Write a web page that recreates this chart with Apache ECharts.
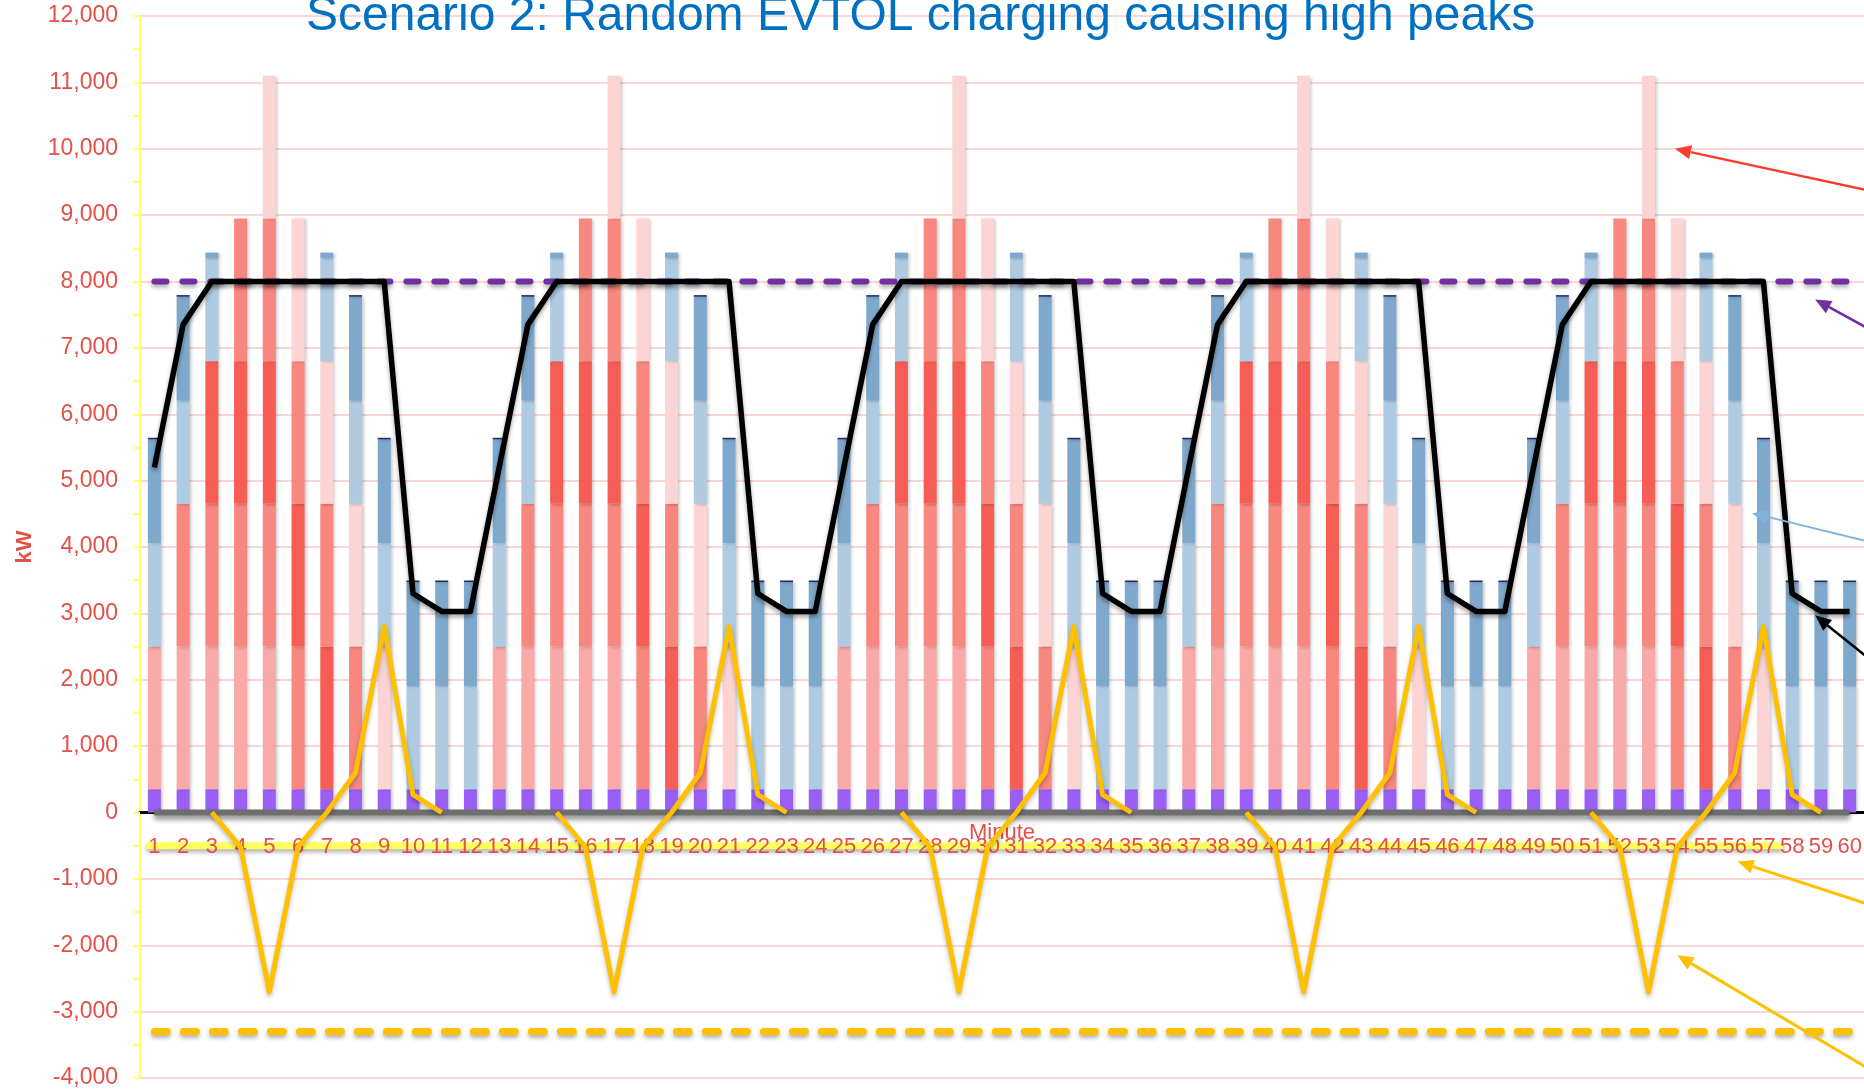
<!DOCTYPE html>
<html><head><meta charset="utf-8">
<script src="https://cdn.jsdelivr.net/npm/echarts@6/dist/echarts.min.js"></script>
<style>html,body{margin:0;padding:0;background:#fff}#c{width:1864px;height:1092px}</style>
</head><body><div id="c"></div>
<script>
// ---------- DATA ----------
const minutes = ['1','2','3','4','5','6','7','8','9','10','11','12','13','14','15','16','17','18','19','20',
  '21','22','23','24','25','26','27','28','29','30','31','32','33','34','35','36','37','38','39','40',
  '41','42','43','44','45','46','47','48','49','50','51','52','53','54','55','56','57','58','59','60'];
const yTicks = [-4000,-3000,-2000,-1000,0,1000,2000,3000,4000,5000,6000,7000,8000,9000,10000,11000,12000];
const _ = null;
const baseLoad = [
 350,350,350,350,350,350,350,350,350,350,350,350,
 350,350,350,350,350,350,350,350,350,350,350,350,
 350,350,350,350,350,350,350,350,350,350,350,350,
 350,350,350,350,350,350,350,350,350,350,350,350,
 350,350,350,350,350,350,350,350,350,350,350,350];
const evtolA = [
 2150,2150,2150,2150,2150,_,_,_,_,_,_,_,
 2150,2150,2150,2150,2150,_,_,_,_,_,_,_,
 2150,2150,2150,2150,2150,_,_,_,_,_,_,_,
 2150,2150,2150,2150,2150,_,_,_,_,_,_,_,
 2150,2150,2150,2150,2150,_,_,_,_,_,_,_];
const evtolB = [
 _,2150,2150,2150,2150,2150,_,_,_,_,_,_,
 _,2150,2150,2150,2150,2150,_,_,_,_,_,_,
 _,2150,2150,2150,2150,2150,_,_,_,_,_,_,
 _,2150,2150,2150,2150,2150,_,_,_,_,_,_,
 _,2150,2150,2150,2150,2150,_,_,_,_,_,_];
const evtolC = [
 _,_,2150,2150,2150,2150,2150,_,_,_,_,_,
 _,_,2150,2150,2150,2150,2150,_,_,_,_,_,
 _,_,2150,2150,2150,2150,2150,_,_,_,_,_,
 _,_,2150,2150,2150,2150,2150,_,_,_,_,_,
 _,_,2150,2150,2150,2150,2150,_,_,_,_,_];
const evtolD = [
 _,_,_,2150,2150,2150,2150,2150,_,_,_,_,
 _,_,_,2150,2150,2150,2150,2150,_,_,_,_,
 _,_,_,2150,2150,2150,2150,2150,_,_,_,_,
 _,_,_,2150,2150,2150,2150,2150,_,_,_,_,
 _,_,_,2150,2150,2150,2150,2150,_,_,_,_];
const evtolE = [
 _,_,_,_,2150,2150,2150,2150,2150,_,_,_,
 _,_,_,_,2150,2150,2150,2150,2150,_,_,_,
 _,_,_,_,2150,2150,2150,2150,2150,_,_,_,
 _,_,_,_,2150,2150,2150,2150,2150,_,_,_,
 _,_,_,_,2150,2150,2150,2150,2150,_,_,_];
const evLight = [
 1555,1555,1555,_,_,_,1555,1555,1555,1555,1555,1555,
 1555,1555,1555,_,_,_,1555,1555,1555,1555,1555,1555,
 1555,1555,1555,_,_,_,1555,1555,1555,1555,1555,1555,
 1555,1555,1555,_,_,_,1555,1555,1555,1555,1555,1555,
 1555,1555,1555,_,_,_,1555,1555,1555,1555,1555,1555];
const evSteel = [
 1565,1565,80,_,_,_,80,1565,1565,1565,1565,1565,
 1565,1565,80,_,_,_,80,1565,1565,1565,1565,1565,
 1565,1565,80,_,_,_,80,1565,1565,1565,1565,1565,
 1565,1565,80,_,_,_,80,1565,1565,1565,1565,1565,
 1565,1565,80,_,_,_,80,1565,1565,1565,1565,1565];
const evCap = [
 25,25,_,_,_,_,_,25,25,25,25,25,
 25,25,_,_,_,_,_,25,25,25,25,25,
 25,25,_,_,_,_,_,25,25,25,25,25,
 25,25,_,_,_,_,_,25,25,25,25,25,
 25,25,_,_,_,_,_,25,25,25,25,25];
const gridDemand = [
 5200,7350,8000,8000,8000,8000,8000,8000,8000,3300,3030,3030,
 5200,7350,8000,8000,8000,8000,8000,8000,8000,3300,3030,3030,
 5200,7350,8000,8000,8000,8000,8000,8000,8000,3300,3030,3030,
 5200,7350,8000,8000,8000,8000,8000,8000,8000,3300,3030,3030,
 5200,7350,8000,8000,8000,8000,8000,8000,8000,3300,3030,3030];
const battery = [
 _,_,0,-520,-2700,-520,0,600,2800,270,0,_,
 _,_,0,-520,-2700,-520,0,600,2800,270,0,_,
 _,_,0,-520,-2700,-520,0,600,2800,270,0,_,
 _,_,0,-520,-2700,-520,0,600,2800,270,0,_,
 _,_,0,-520,-2700,-520,0,600,2800,270,0,_];
const gridLimit = [
 8000,8000,8000,8000,8000,8000,8000,8000,8000,8000,8000,8000,
 8000,8000,8000,8000,8000,8000,8000,8000,8000,8000,8000,8000,
 8000,8000,8000,8000,8000,8000,8000,8000,8000,8000,8000,8000,
 8000,8000,8000,8000,8000,8000,8000,8000,8000,8000,8000,8000,
 8000,8000,8000,8000,8000,8000,8000,8000,8000,8000,8000,8000];
const batteryLimit = [
 -3300,-3300,-3300,-3300,-3300,-3300,-3300,-3300,-3300,-3300,-3300,-3300,
 -3300,-3300,-3300,-3300,-3300,-3300,-3300,-3300,-3300,-3300,-3300,-3300,
 -3300,-3300,-3300,-3300,-3300,-3300,-3300,-3300,-3300,-3300,-3300,-3300,
 -3300,-3300,-3300,-3300,-3300,-3300,-3300,-3300,-3300,-3300,-3300,-3300,
 -3300,-3300,-3300,-3300,-3300,-3300,-3300,-3300,-3300,-3300,-3300,-3300];
const zeroLine = [
 0,0,0,0,0,0,0,0,0,0,0,0, 0,0,0,0,0,0,0,0,0,0,0,0, 0,0,0,0,0,0,0,0,0,0,0,0,
 0,0,0,0,0,0,0,0,0,0,0,0, 0,0,0,0,0,0,0,0,0,0,0,0];
// annotation arrows: [tip minute, tip value, edge minute, edge value]
const arrowRed = [53.92, 10000, 60.42, 9393];
const arrowPurple = [58.8, 7730, 60.42, 7345];
const arrowBlue = [56.6, 4510, 60.42, 4107];
const arrowBlack = [58.8, 2970, 60.42, 2405];
const arrowYellow = [56.1, -740, 60.42, -1350];
const arrowOrange = [54.0, -2150, 60.42, -3800];
const highlightBand = [0.72, 57.7, -500];

// ---------- CHART ----------
const RED = '#e2504a';
const FONT = 'Liberation Sans';
const W = 1864, H = 1092, GT = 16, GB = 14, YMIN = -4000, YMAX = 12000;
const plotH = H - GT - GB;
const zeroOffset = -plotH * (0 - YMIN) / (YMAX - YMIN);
const chart = echarts.init(document.getElementById('c'), null, {renderer: 'canvas'});
const barShadow = {shadowColor: 'rgba(0,0,0,0.22)', shadowBlur: 3, shadowOffsetX: 2, shadowOffsetY: 1};
function bar(name, data, color) {
  return {name, type: 'bar', stack: 'load', data, barWidth: 13, z: 2,
    itemStyle: Object.assign({color}, barShadow)};
}
function line(name, data, color, width, extra) {
  return {name, type: 'line', data, symbol: 'none', z: 3,
    lineStyle: Object.assign({color, width}, extra || {})};
}
chart.setOption({
  animation: false,
  backgroundColor: '#ffffff',
  title: {text: 'Scenario 2: Random EVTOL charging causing high peaks', left: 301, top: -12,
    textStyle: {color: '#0070c0', fontSize: 48, fontWeight: 'normal', fontFamily: FONT}},
  grid: {left: 140, right: 0, top: GT, bottom: GB, containLabel: false, outerBoundsMode: 'none'},
  xAxis: {type: 'category', data: minutes, offset: zeroOffset,
    axisLine: {onZero: false, lineStyle: {color: '#000', width: 3}},
    axisTick: {show: false},
    axisLabel: {interval: 0, color: RED, fontSize: 22, fontFamily: FONT, margin: 23},
    name: 'Minute', nameLocation: 'middle', nameGap: 9, nameMoveOverlap: false,
    nameTextStyle: {color: RED, fontSize: 22, fontFamily: FONT, verticalAlign: 'top'},
    splitLine: {show: false}},
  yAxis: {type: 'value', min: YMIN, max: YMAX, interval: 1000,
    axisLine: {show: true, lineStyle: {color: '#ffff66', width: 2}},
    axisTick: {show: true, length: 6, lineStyle: {color: '#ffff66', width: 2}},
    minorTick: {show: true, splitNumber: 2, length: 6, lineStyle: {color: '#ffff66', width: 2}},
    axisLabel: {color: RED, fontSize: 23, fontFamily: FONT, margin: 22,
      formatter: v => yTicks.indexOf(v) >= 0 ? v.toLocaleString('en-US') : ''},
    splitLine: {show: true, lineStyle: {color: '#fad6d6', width: 2}},
    name: 'kW', nameLocation: 'middle', nameGap: 104, nameMoveOverlap: false,
    nameTextStyle: {color: RED, fontSize: 22, fontFamily: FONT, fontWeight: 'bold'}},
  series: [
    bar('Base load', baseLoad, '#9a60f6'),
    bar('EVTOL 1', evtolA, '#f9a9a7'),
    bar('EVTOL 2', evtolB, '#f7877f'),
    bar('EVTOL 3', evtolC, '#f65d54'),
    bar('EVTOL 4', evtolD, '#f7877f'),
    bar('EVTOL 5', evtolE, '#fcd4d3'),
    bar('EV slow', evLight, '#aecbe2'),
    bar('EV fast', evSteel, '#7fa9cc'),
    bar('EV cap', evCap, '#1f2f66'),
    line('Zero', zeroLine, '#6e6e6e', 6, {shadowColor: 'rgba(0,0,0,0.45)', shadowBlur: 5, shadowOffsetY: 4}),
    line('Grid limit', gridLimit, '#7030a0', 6, {type: [12, 16], cap: 'round',
      shadowColor: 'rgba(0,0,0,0.3)', shadowBlur: 4, shadowOffsetY: 3}),
    line('Battery limit', batteryLimit, '#ffc000', 7, {type: [13, 16], cap: 'round',
      shadowColor: 'rgba(0,0,0,0.3)', shadowBlur: 4, shadowOffsetY: 3}),
    line('Grid demand', gridDemand, '#000000', 5.5, {join: 'round',
      shadowColor: 'rgba(0,0,0,0.35)', shadowBlur: 4, shadowOffsetY: 3}),
    line('Battery', battery, '#ffc000', 5, {join: 'round',
      shadowColor: 'rgba(0,0,0,0.25)', shadowBlur: 4, shadowOffsetY: 3})
  ]
});

// ---------- ANNOTATIONS (positioned through the chart scales) ----------
function toPx(m, v) {
  const xa = chart.convertToPixel({xAxisIndex: 0}, '1');
  const xb = chart.convertToPixel({xAxisIndex: 0}, '60');
  const x = xa + (m - 1) * (xb - xa) / 59;
  const y = chart.convertToPixel({yAxisIndex: 0}, v);
  return [x, y];
}
function arrowEls(a, color, w) {
  const tip = toPx(a[0], a[1]);
  const edge = toPx(a[2], a[3]);
  const tail = [tip[0] + (edge[0] - tip[0]) * 1.4, tip[1] + (edge[1] - tip[1]) * 1.4];
  const ang = Math.atan2(tail[1] - tip[1], tail[0] - tip[0]);
  const L = 16, HW = 7;
  const c = Math.cos(ang), s = Math.sin(ang);
  const b = [tip[0] + L * c, tip[1] + L * s];
  const p1 = [b[0] - HW * s, b[1] + HW * c];
  const p2 = [b[0] + HW * s, b[1] - HW * c];
  return [
    {type: 'line', z: 50, shape: {x1: b[0], y1: b[1], x2: tail[0], y2: tail[1]},
      style: {stroke: color, lineWidth: w}},
    {type: 'polygon', z: 50, shape: {points: [tip, p1, p2]}, style: {fill: color}}
  ];
}
const hb0 = toPx(highlightBand[0], highlightBand[2]);
const hb1 = toPx(highlightBand[1], highlightBand[2]);
const els = [
  {type: 'line', z: -1, shape: {x1: hb0[0], y1: hb0[1], x2: hb1[0], y2: hb1[1]},
    style: {stroke: '#ffff5e', lineWidth: 7, shadowColor: 'rgba(0,0,0,0.3)', shadowBlur: 4, shadowOffsetY: 3}}
].concat(
  arrowEls(arrowRed, '#ff3b2f', 2.5),
  arrowEls(arrowPurple, '#7030a0', 2.5),
  arrowEls(arrowBlue, '#7fb2dd', 1.8),
  arrowEls(arrowBlack, '#000000', 2.5),
  arrowEls(arrowYellow, '#ffc000', 3),
  arrowEls(arrowOrange, '#ffc000', 3)
);
chart.setOption({graphic: {elements: els}});
</script>
</body></html>
